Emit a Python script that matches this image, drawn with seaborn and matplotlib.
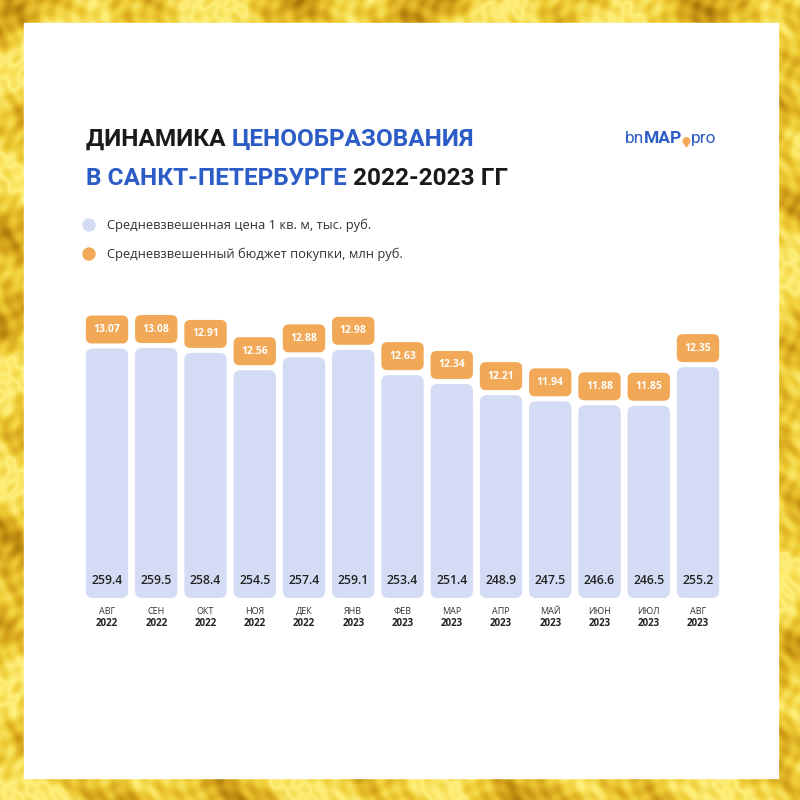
import numpy as np
import pandas as pd
import matplotlib
matplotlib.use('Agg')
import matplotlib.pyplot as plt
import seaborn as sns
from matplotlib.patches import FancyBboxPatch, Rectangle, Circle, Polygon
from matplotlib.colors import LinearSegmentedColormap
from matplotlib import transforms

# ---- data ----
months = ['АВГ', 'СЕН', 'ОКТ', 'НОЯ', 'ДЕК', 'ЯНВ', 'ФЕВ', 'МАР', 'АПР', 'МАЙ', 'ИЮН', 'ИЮЛ', 'АВГ']
years = ['2022', '2022', '2022', '2022', '2022', '2023', '2023', '2023', '2023', '2023', '2023', '2023', '2023']
price = [259.4, 259.5, 258.4, 254.5, 257.4, 259.1, 253.4, 251.4, 248.9, 247.5, 246.6, 246.5, 255.2]
budget = [13.07, 13.08, 12.91, 12.56, 12.88, 12.98, 12.63, 12.34, 12.21, 11.94, 11.88, 11.85, 12.35]

legend_labels = ['Средневзвешенная цена 1 кв. м, тыс. руб.',
                 'Средневзвешенный бюджет покупки, млн руб.']

BLUE_BAR = '#d3dcf4'
ORANGE = '#f2a957'
TITLE_BLUE = '#2c5cc5'
DARK = '#222222'

df = pd.DataFrame({'label': [f'{m}\n{y}' for m, y in zip(months, years)],
                   'price': price, 'budget': budget})

sns.set_theme(style='white')
plt.rcParams['font.family'] = ['Open Sans', 'DejaVu Sans']

W = H = 800
fig = plt.figure(figsize=(8, 8), dpi=100)

# ---- gold frame background (decorative texture) ----
bg = fig.add_axes([0, 0, 1, 1])
bg.set_axis_off()
yy, xx = np.mgrid[0:400, 0:400] * 2.0
tex = (np.sin(xx * 0.045 + 2.5 * np.sin(yy * 0.021))
       + 0.7 * np.sin(yy * 0.06 + 1.8 * np.cos(xx * 0.017))
       + 0.45 * np.sin((xx + yy) * 0.13 + np.sin(xx * 0.05))
       + 0.35 * np.sin(xx * 0.41 + 3 * np.sin(yy * 0.09))
       + 0.3 * np.sin(yy * 0.37 + 3 * np.cos(xx * 0.07)))
cmap = LinearSegmentedColormap.from_list(
    'gold', ['#a47408', '#d4a21a', '#efcd36', '#fff07c', '#f3d540'])
bg.imshow(tex, cmap=cmap, extent=[0, W, 0, H], aspect='auto', origin='lower')
bg.set_xlim(0, W)
bg.set_ylim(0, H)
bg.add_patch(Rectangle((24, 22), 754, 755, color='white', zorder=2))

def fy(py):
    return H - py

# ---- chart axes ----
px_x = 49.25           # pixels per category
left_px = 107 - px_x / 2
base_px, top_px = 598, 300
ax = fig.add_axes([left_px / W, 1 - base_px / H, 13 * px_x / W, (base_px - top_px) / H])
ax.patch.set_alpha(0)
ymin = 203.2
ppu = 4.44             # pixels per y-unit
ymax = ymin + (base_px - top_px) / ppu

sns.barplot(data=df, x='label', y='price', color=BLUE_BAR, width=0.86,
            saturation=1, ax=ax, zorder=2)
ax.set_xlim(-0.5, 12.5)
ax.set_ylim(ymin, ymax)
for s in ax.spines.values():
    s.set_visible(False)
ax.set_xticks([])
ax.set_yticks([])
ax.set_xlabel('')
ax.set_ylabel('')

aspect = (1 / ppu) / (1 / px_x)
r_bar = 7 / px_x
for p in list(ax.patches):
    x0, w, h = p.get_x(), p.get_width(), p.get_height()
    top = p.get_y() + h
    p.set_visible(False)
    fb = FancyBboxPatch((x0, ymin), w, top - ymin,
                        boxstyle=f'round,pad=0,rounding_size={r_bar}',
                        mutation_aspect=aspect, fc=BLUE_BAR, ec='none',
                        zorder=3, clip_on=False)
    ax.add_patch(fb)

pill_gap = 5 / ppu
pill_h = 28 / ppu
r_pill = 6 / px_x
trans = transforms.blended_transform_factory(ax.transData, ax.transAxes)
for i, (pv, bv) in enumerate(zip(price, budget)):
    w = 0.86
    y0 = pv + pill_gap
    ax.add_patch(FancyBboxPatch((i - w / 2, y0), w, pill_h,
                                boxstyle=f'round,pad=0,rounding_size={r_pill}',
                                mutation_aspect=aspect, fc=ORANGE, ec='none',
                                zorder=4, clip_on=False))
    ax.text(i, y0 + pill_h / 2, f'{bv:.2f}', ha='center', va='center',
            color='white', fontsize=7.5, fontweight='bold', zorder=5)
    ax.text(i, ymin + 18 / ppu, f'{pv:.1f}', ha='center', va='center',
            color=DARK, fontsize=8.8, fontweight='semibold', zorder=5)
    ax.text(i, -13 / (base_px - top_px), months[i], ha='center', va='center',
            color='#333333', fontsize=6.5, transform=trans)
    ax.text(i, -25 / (base_px - top_px), years[i], ha='center', va='center',
            color=DARK, fontsize=7, fontweight='bold', transform=trans)

# ---- title (multi-colour pieces) ----
renderer = fig.canvas.get_renderer()

def draw_pieces(pieces, x_px, y_px, size, family=None):
    x = x_px
    for txt, col, wt in pieces:
        t = fig.text(x / W, 1 - y_px / H, txt, color=col, fontsize=size,
                     fontweight=wt, va='baseline', ha='left',
                     family=family or ['Roboto', 'DejaVu Sans'])
        bb = t.get_window_extent(renderer=renderer)
        x += bb.width
    return x

draw_pieces([('ДИНАМИКА ', '#1a1a1a', 'bold'), ('ЦЕНООБРАЗОВАНИЯ', TITLE_BLUE, 'bold')],
            86, 146, 17.6)
draw_pieces([('В САНКТ-ПЕТЕРБУРГЕ ', TITLE_BLUE, 'bold'), ('2022-2023 ГГ', '#1a1a1a', 'bold')],
            86, 185, 17.6)

# ---- logo ----
xe = draw_pieces([('bn', TITLE_BLUE, 'normal'), ('MAP', TITLE_BLUE, 'bold')],
                 625, 143, 12.5)
bg.add_patch(Circle((xe + 4, fy(141)), 3.2, color=ORANGE, zorder=5))
bg.add_patch(Polygon([[xe + 1.3, fy(142)], [xe + 6.7, fy(142)], [xe + 4, fy(147)]],
                     closed=True, color=ORANGE, zorder=5))
draw_pieces([('pro', TITLE_BLUE, 'normal')], xe + 8, 143, 12.5)

# ---- legend ----
for (cy, col, lab) in [(225, BLUE_BAR, legend_labels[0]), (254, ORANGE, legend_labels[1])]:
    bg.add_patch(Circle((89, fy(cy)), 6, color=col, zorder=5))
    fig.text(107 / W, 1 - cy / H, lab, color='#333333', fontsize=9.25,
             va='center', ha='left')

fig.savefig('out.png', dpi=100)
